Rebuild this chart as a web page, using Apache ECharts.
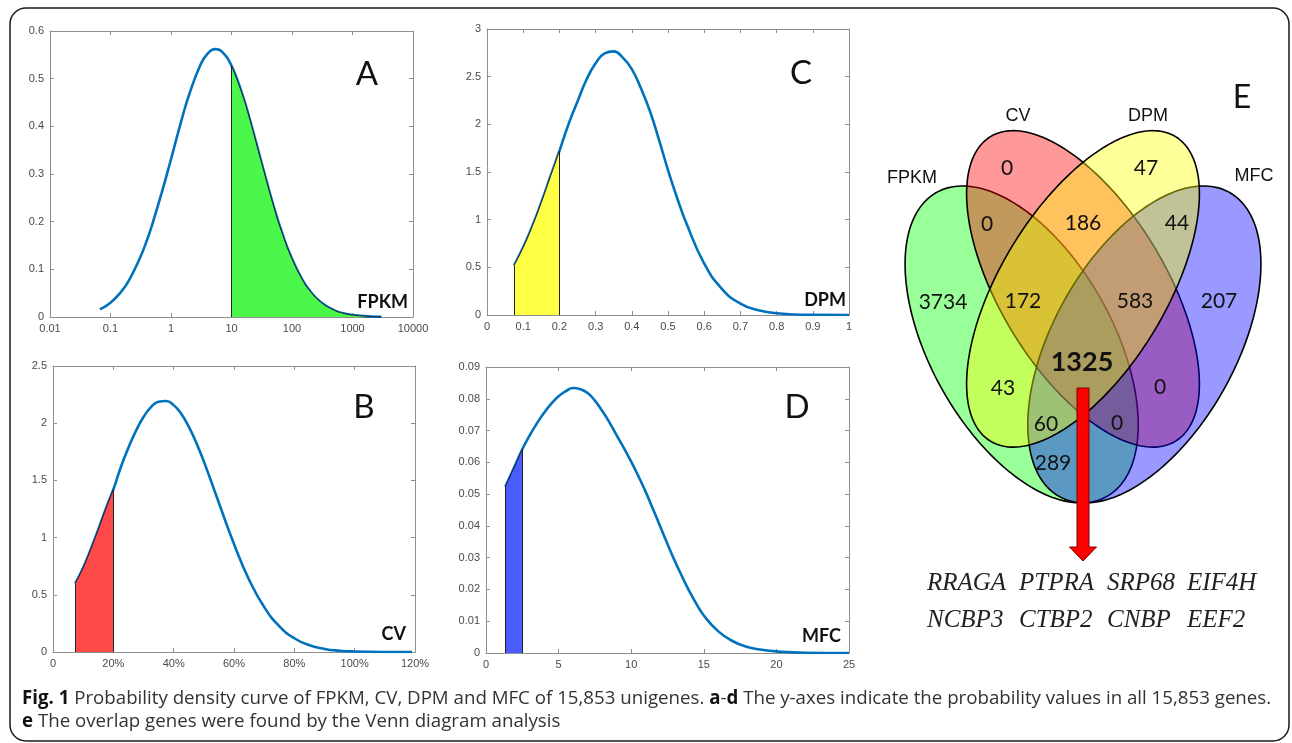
<!DOCTYPE html>
<html>
<head>
<meta charset="utf-8">
<title>Fig. 1</title>
<script src="https://cdn.jsdelivr.net/npm/echarts@6/dist/echarts.min.js"></script>
<style>
  html, body { margin: 0; padding: 0; background: #fff; }
  #chart { width: 1292px; height: 743px; }
</style>
</head>
<body>
<div id="chart"></div>
<script>
// density curves: [x, probability]
const fpkmCurve = [[0.067, 0.016], [0.1, 0.030], [0.15, 0.053], [0.2, 0.076], [0.3, 0.121], [0.4, 0.161],
  [0.5, 0.198], [0.7, 0.260], [1, 0.331], [1.5, 0.414], [2, 0.467], [3, 0.526], [4, 0.552], [5.5, 0.562],
  [7, 0.556], [10, 0.527], [15, 0.468], [20, 0.415], [30, 0.333], [50, 0.231], [70, 0.173], [100, 0.122],
  [150, 0.077], [200, 0.054], [300, 0.031], [500, 0.014], [700, 0.0078], [1000, 0.0041], [2000, 0.001],
  [3000, 0.0004]];
const cvCurve = [[0.074, 0.60], [0.1, 0.737], [0.125, 0.897], [0.15, 1.069], [0.175, 1.251], [0.2, 1.42],
  [0.225, 1.617], [0.25, 1.785], [0.275, 1.933], [0.3, 2.054], [0.325, 2.141], [0.35, 2.188], [0.375, 2.194],
  [0.4, 2.158], [0.425, 2.082], [0.45, 1.970], [0.475, 1.829], [0.5, 1.666], [0.55, 1.303], [0.6, 0.944],
  [0.65, 0.632], [0.7, 0.393], [0.75, 0.226], [0.8, 0.12], [0.85, 0.059], [0.9, 0.027], [0.95, 0.0114],
  [1.0, 0.0045], [1.1, 0.0005], [1.19, 0]];
const dpmCurve = [[0.075, 0.52], [0.1, 0.71], [0.125, 0.93], [0.15, 1.18], [0.175, 1.45], [0.2, 1.72],
  [0.225, 2.00], [0.25, 2.24], [0.275, 2.47], [0.3, 2.64], [0.325, 2.745], [0.35, 2.765], [0.375, 2.70],
  [0.4, 2.58], [0.425, 2.38], [0.45, 2.14], [0.475, 1.84], [0.5, 1.52], [0.525, 1.23], [0.55, 0.97],
  [0.6, 0.54], [0.65, 0.27], [0.7, 0.12], [0.75, 0.05], [0.8, 0.018], [0.85, 0.006], [0.9, 0.002], [1.0, 0]];
const mfcCurve = [[1.33, 0.0523], [2, 0.0590], [2.5, 0.0641], [3, 0.0684], [3.5, 0.0722], [4, 0.0756],
  [4.5, 0.0785], [5, 0.0808], [5.5, 0.0824], [6, 0.0834], [6.5, 0.0830], [7, 0.0818], [7.5, 0.0794],
  [8, 0.0762], [8.5, 0.0726], [9, 0.0685], [9.5, 0.0645], [10, 0.0602], [10.5, 0.0556], [11, 0.0507],
  [11.5, 0.0453], [12, 0.0398], [12.5, 0.0343], [13, 0.029], [13.5, 0.0241], [14, 0.0195], [14.5, 0.0154],
  [15, 0.0118], [16, 0.0068], [17, 0.0037], [18, 0.0019], [19, 0.0010], [20, 0.0005], [22, 0.0001], [25, 0]];

// shaded ranges of x
const fpkmShade = [10, 1e9];
const cvShade = [0, 0.2];
const dpmShade = [0, 0.2];
const mfcShade = [0, 2.5];

// venn counts
const vennSets = ['FPKM', 'CV', 'DPM', 'MFC'];
const vennCounts = [0, 47, 0, 186, 44, 3734, 172, 583, 207, 1325, 43, 0, 60, 0, 289];
const genes = [['RRAGA', 'PTPRA', 'SRP68', 'EIF4H'], ['NCBP3', 'CTBP2', 'CNBP', 'EEF2']];

// ---- layout ----
const panels = [
  { name: 'A', tag: 'FPKM', curve: fpkmCurve, shade: fpkmShade, fill: '#4cf74c',
    grid: { left: 50, top: 31, width: 363, height: 286 },
    x: { type: 'log', min: 0.01, max: 10000 }, y: { min: 0, max: 0.6, interval: 0.1 },
    xfmt: v => String(Number(v.toPrecision(6))), yfmt: v => String(Number(v.toFixed(1))),
    letterPos: [367, 74], tagPos: [408, 302] },
  { name: 'B', tag: 'CV', curve: cvCurve, shade: cvShade, fill: '#ff4a4a',
    grid: { left: 53, top: 366, width: 362, height: 286 },
    x: { type: 'value', min: 0, max: 1.2, interval: 0.2 }, y: { min: 0, max: 2.5, interval: 0.5 },
    xfmt: v => v === 0 ? '0' : Math.round(v * 100) + '%', yfmt: v => String(v),
    letterPos: [364, 407], tagPos: [406, 634] },
  { name: 'C', tag: 'DPM', curve: dpmCurve, shade: dpmShade, fill: '#ffff45',
    grid: { left: 487, top: 29, width: 362, height: 286 },
    x: { type: 'value', min: 0, max: 1, interval: 0.1 }, y: { min: 0, max: 3, interval: 0.5 },
    xfmt: v => String(Number(v.toFixed(1))), yfmt: v => String(v),
    letterPos: [801, 73], tagPos: [846, 300] },
  { name: 'D', tag: 'MFC', curve: mfcCurve, shade: mfcShade, fill: '#4a5cff',
    grid: { left: 486, top: 367, width: 363, height: 286 },
    x: { type: 'value', min: 0, max: 25, interval: 5 }, y: { min: 0, max: 0.09, interval: 0.01 },
    xfmt: v => String(v), yfmt: v => v === 0 ? '0' : v.toFixed(2),
    letterPos: [797, 407], tagPos: [841, 636] }
];

const axisColor = '#8f8f8f';
const labelColor = '#4a4a4a';
const grids = [], xAxes = [], yAxes = [], series = [], graphics = [];

panels.forEach((p, i) => {
  grids.push(p.grid);
  const common = {
    gridIndex: i,
    axisLine: { onZero: false, lineStyle: { color: axisColor, width: 1 } },
    axisTick: { inside: true, length: 4, lineStyle: { color: axisColor } },
    splitLine: { show: false }
  };
  const xBase = Object.assign({}, common, p.x, p.x.type === 'log' ? { logBase: 10 } : {});
  xAxes.push(Object.assign({}, xBase, { position: 'bottom',
    axisLabel: { color: labelColor, fontSize: 11, fontFamily: 'Liberation Sans', margin: 6, formatter: p.xfmt } }));
  xAxes.push(Object.assign({}, xBase, { position: 'top', axisLabel: { show: false } }));
  const yBase = Object.assign({ type: 'value' }, common, p.y);
  yAxes.push(Object.assign({}, yBase, { position: 'left',
    axisLabel: { color: labelColor, fontSize: 11, fontFamily: 'Liberation Sans', margin: 6, formatter: p.yfmt } }));
  yAxes.push(Object.assign({}, yBase, { position: 'right', axisLabel: { show: false } }));

  const shade = p.curve.filter(d => d[0] >= p.shade[0] && d[0] <= p.shade[1]);
  const first = shade[0], last = shade[shade.length - 1];
  series.push({
    type: 'line', xAxisIndex: 2 * i, yAxisIndex: 2 * i, data: p.curve, smooth: 0.5,
    showSymbol: false, silent: true, z: 2,
    lineStyle: { color: '#0072bd', width: 2.6 }
  });
  series.push({
    type: 'line', xAxisIndex: 2 * i, yAxisIndex: 2 * i, data: shade, smooth: 0.5,
    showSymbol: false, silent: true, z: 3,
    lineStyle: { color: '#1c1c3c', width: 1 },
    areaStyle: { color: p.fill, opacity: 1 },
    markLine: {
      silent: true, symbol: 'none', label: { show: false },
      lineStyle: { color: '#222', width: 1, type: 'solid' },
      data: [[{ coord: [first[0], 0] }, { coord: first }], [{ coord: [last[0], 0] }, { coord: last }]]
    }
  });

  graphics.push({ type: 'text', z: 10, style: { text: p.name, x: p.letterPos[0], y: p.letterPos[1],
    font: '33px Lato', fill: '#111', align: 'center', verticalAlign: 'middle' } });
  graphics.push({ type: 'text', z: 10, style: { text: p.tag, x: p.tagPos[0], y: p.tagPos[1],
    font: 'bold 18px Lato', fill: '#111', align: 'right', verticalAlign: 'middle' } });
});

// ---- venn diagram (unit square mapped to pixels) ----
const VX = 1083, VY = 605.8, VSX = 409, VSY = 556;
function ellipse(cx, cy, a, b, rot) {
  const pts = [], r = rot * Math.PI / 180;
  for (let k = 0; k < 200; k++) {
    const t = k / 200 * 2 * Math.PI;
    const ex = a * Math.cos(t), ey = b * Math.sin(t);
    const x = cx + ex * Math.cos(r) - ey * Math.sin(r);
    const y = cy + ex * Math.sin(r) + ey * Math.cos(r);
    pts.push([VX + (x - 0.5) * VSX, VY - y * VSY]);
  }
  return pts;
}
// draw order FPKM, CV, MFC, DPM (gives the mixed colours)
const vennShapes = [
  { c: 'rgba(0,255,0,0.4)', e: [0.35, 0.47, 0.35, 0.20, 135] },
  { c: 'rgba(255,0,0,0.4)', e: [0.50, 0.57, 0.36, 0.18, 135] },
  { c: 'rgba(0,0,255,0.4)', e: [0.65, 0.47, 0.35, 0.20, 45] },
  { c: 'rgba(255,255,0,0.4)', e: [0.50, 0.57, 0.36, 0.18, 45] }
];
vennShapes.forEach((s, k) => {
  graphics.push({ type: 'polygon', z: 5 + k, shape: { points: ellipse.apply(null, s.e) },
    style: { fill: s.c, stroke: '#000', lineWidth: 1.6 } });
});
const setLabelPos = [[912, 178], [1018, 116], [1148, 116], [1254, 176]];
vennSets.forEach((n, k) => {
  graphics.push({ type: 'text', z: 10, style: { text: n, x: setLabelPos[k][0], y: setLabelPos[k][1],
    font: '18px "Liberation Sans"', fill: '#111', align: 'center', verticalAlign: 'middle' } });
});
const countPos = [[1007, 168], [1146, 168], [987, 224], [1083, 223], [1177, 223], [943, 302], [1023, 301],
  [1135, 301], [1219, 301], [1082, 362], [1003, 388], [1160, 387], [1046, 424], [1117, 423], [1053, 463]];
vennCounts.forEach((n, k) => {
  const big = n === 1325;
  graphics.push({ type: 'text', z: 10, style: { text: String(n), x: countPos[k][0], y: countPos[k][1],
    font: big ? 'bold 27px Lato' : '21px Lato', fill: '#111', align: 'center', verticalAlign: 'middle' } });
});
graphics.push({ type: 'text', z: 10, style: { text: 'E', x: 1242, y: 98, font: '32px Lato', fill: '#111',
  align: 'center', verticalAlign: 'middle' } });
// red arrow
graphics.push({ type: 'polygon', z: 12, shape: { points: [[1077, 388], [1089, 388], [1089, 547], [1096.5, 547],
  [1083, 561], [1069.5, 547], [1077, 547]] }, style: { fill: '#ff0000', stroke: '#7a0000', lineWidth: 1 } });
const geneX = [927, 1019, 1107, 1187], geneY = [583, 620];
genes.forEach((row, r) => row.forEach((g, c) => {
  graphics.push({ type: 'text', z: 10, style: { text: g, x: geneX[c], y: geneY[r],
    font: 'italic 25px "Liberation Serif"', fill: '#222', align: 'left', verticalAlign: 'middle' } });
}));

// caption + frame
const capFont = '18.7px "Open Sans"';
graphics.push({ type: 'text', z: 10, style: {
  text: '{b|Fig. 1} Probability density curve of FPKM, CV, DPM and MFC of 15,853 unigenes. {b|a}-{b|d} The y-axes indicate the probability values in all 15,853 genes.',
  x: 22, y: 699, font: capFont, fill: '#333', verticalAlign: 'middle',
  rich: { b: { font: 'bold ' + capFont, fill: '#111' } } } });
graphics.push({ type: 'text', z: 10, style: {
  text: '{b|e} The overlap genes were found by the Venn diagram analysis',
  x: 22, y: 722, font: capFont, fill: '#333', verticalAlign: 'middle',
  rich: { b: { font: 'bold ' + capFont, fill: '#111' } } } });
graphics.push({ type: 'rect', z: 1, shape: { x: 10, y: 8, width: 1279, height: 733, r: 16 },
  style: { fill: 'none', stroke: '#1a1a1a', lineWidth: 1.5 } });

const chart = echarts.init(document.getElementById('chart'));
chart.setOption({
  animation: false,
  backgroundColor: '#fff',
  grid: grids,
  xAxis: xAxes,
  yAxis: yAxes,
  series: series,
  graphic: graphics
});
window.addEventListener('resize', () => chart.resize());
</script>
</body>
</html>
